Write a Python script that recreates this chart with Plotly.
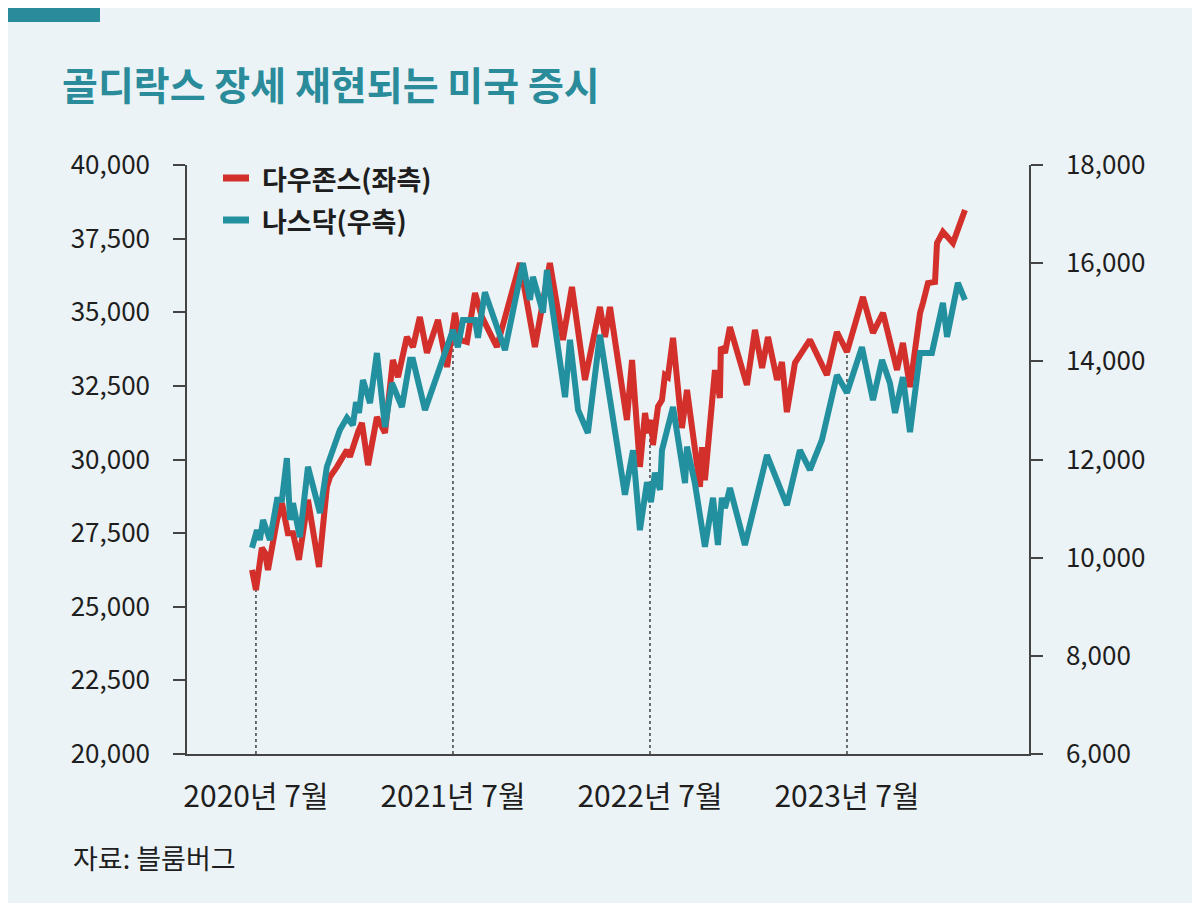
import numpy as np
import plotly.graph_objects as go

# ---------------- data ----------------
dow_x = [2020.480, 2020.500, 2020.530, 2020.546, 2020.561, 2020.607, 2020.632, 2020.662, 2020.688, 2020.718,
         2020.764, 2020.820, 2020.860, 2020.876, 2020.911, 2020.937, 2020.962, 2020.977, 2021.003, 2021.018,
         2021.038, 2021.069, 2021.114, 2021.155, 2021.195, 2021.221, 2021.266, 2021.297, 2021.332, 2021.368,
         2021.424, 2021.470, 2021.510, 2021.536, 2021.571, 2021.612, 2021.647, 2021.723, 2021.840, 2021.916,
         2021.992, 2022.058, 2022.104, 2022.170, 2022.246, 2022.272, 2022.297, 2022.383, 2022.409, 2022.449,
         2022.475, 2022.490, 2022.510, 2022.515, 2022.541, 2022.561, 2022.576, 2022.591, 2022.617, 2022.662,
         2022.688, 2022.754, 2022.764, 2022.779, 2022.830, 2022.855, 2022.860, 2022.881, 2022.906, 2022.992,
         2023.033, 2023.069, 2023.099, 2023.145, 2023.170, 2023.195, 2023.236, 2023.312, 2023.398, 2023.449,
         2023.500, 2023.581, 2023.632, 2023.683, 2023.754, 2023.784, 2023.820, 2023.871, 2023.886, 2023.911,
         2023.947, 2023.957, 2023.987, 2024.038, 2024.099]
dow_y = [26250, 25570, 27000, 26830, 26250, 27950, 28520, 27500, 27500, 26590,
         28630, 26350, 29070, 29410, 29750, 30090, 30320, 30090, 30660, 30930,
         31240, 29810, 31440, 30900, 33380, 32800, 34160, 33820, 34840, 33620,
         34740, 33140, 34980, 34060, 33990, 35650, 34840, 33820, 36670, 33820,
         36670, 34060, 35860, 32700, 35180, 34160, 35180, 31340, 33380, 29750,
         31580, 30900, 31340, 30490, 31800, 32020, 32870, 32800, 34130, 31070,
         32360, 29070, 30420, 29300, 33040, 32090, 33820, 33620, 34500, 32530,
         34400, 33110, 34160, 32700, 33310, 31610, 33280, 34060, 32870, 34330,
         33650, 35520, 34300, 34980, 33040, 33960, 32460, 34980, 35320, 35990,
         36030, 37350, 37730, 37350, 38470]

nasdaq_x = [2020.480, 2020.505, 2020.520, 2020.536, 2020.571, 2020.607, 2020.632, 2020.657, 2020.673, 2020.688,
            2020.723, 2020.764, 2020.825, 2020.860, 2020.926, 2020.962, 2020.992, 2021.008, 2021.023, 2021.043,
            2021.079, 2021.114, 2021.155, 2021.190, 2021.241, 2021.282, 2021.297, 2021.358, 2021.500, 2021.525,
            2021.551, 2021.612, 2021.627, 2021.662, 2021.764, 2021.855, 2021.891, 2021.906, 2021.957, 2021.977,
            2022.069, 2022.094, 2022.135, 2022.185, 2022.246, 2022.373, 2022.414, 2022.449, 2022.485, 2022.505,
            2022.525, 2022.551, 2022.561, 2022.617, 2022.678, 2022.688, 2022.728, 2022.779, 2022.820, 2022.845,
            2022.865, 2022.881, 2022.906, 2022.982, 2023.094, 2023.195, 2023.261, 2023.312, 2023.373, 2023.449,
            2023.500, 2023.576, 2023.632, 2023.678, 2023.718, 2023.744, 2023.784, 2023.820, 2023.871, 2023.931,
            2023.987, 2024.008, 2024.063, 2024.099]
nasdaq_y = [10200, 10560, 10360, 10770, 10360, 11180, 11180, 12030, 10770, 11110,
            10420, 11850, 10910, 11850, 12600, 12850, 12700, 13170, 12950, 13620,
            13150, 14170, 12660, 13560, 13070, 14030, 14030, 13010, 14640, 14290,
            14840, 14840, 14480, 15410, 14230, 16000, 15250, 15720, 14990, 15860,
            13270, 14440, 13010, 12540, 14540, 11280, 12190, 10560, 11540, 11130,
            11730, 11380, 12190, 13070, 11520, 12260, 11520, 10220, 11220, 10260,
            11220, 11010, 11420, 10260, 12090, 11070, 12190, 11790, 12400, 13720,
            13360, 14290, 13210, 14030, 13560, 12950, 13680, 12560, 14170, 14170,
            15190, 14500, 15600, 15250]

series_names = ["다우존스(좌측)", "나스닥(우측)"]
tick_years = [2020.5, 2021.5, 2022.5, 2023.5]
tick_labels = ["2020년 7월", "2021년 7월", "2022년 7월", "2023년 7월"]
left_ticks = [20000, 22500, 25000, 27500, 30000, 32500, 35000, 37500, 40000]
right_ticks = [6000, 8000, 10000, 12000, 14000, 16000, 18000]
title_text = "골디락스 장세 재현되는 미국 증시"
source_text = "자료: 블룸버그"

# ---------------- styling ----------------
RED = "#d32f2b"
TEAL = "#23909f"
TITLE_TEAL = "#2a8b9a"
PANEL = "#ecf3f6"
AXIS = "#444444"
TXT = "#1e1e1e"
KR = "Noto Sans CJK KR"

# the page body adds an 8px margin around the figure
OFF = 8
W, H = 1200 - 2 * OFF, 912 - 2 * OFF
L, R, T, B = 187, 1029, 165, 754  # plot area in page pixels


def px(x):
    return (x - L) / (R - L)


def py(y):
    return (B - y) / (B - T)


fig = go.Figure()

fig.add_trace(go.Scatter(x=dow_x, y=dow_y, mode="lines", name=series_names[0],
                         line=dict(color=RED, width=6), yaxis="y", showlegend=False))
fig.add_trace(go.Scatter(x=nasdaq_x, y=nasdaq_y, mode="lines", name=series_names[1],
                         line=dict(color=TEAL, width=6), yaxis="y2", showlegend=False))

shapes = []
# background panel and top accent bar
shapes.append(dict(type="rect", xref="paper", yref="paper", x0=px(OFF), x1=px(1192), y0=py(903), y1=py(OFF),
                   fillcolor=PANEL, line=dict(width=0), layer="below"))
shapes.append(dict(type="rect", xref="paper", yref="paper", x0=px(OFF), x1=px(100), y0=py(22), y1=py(OFF),
                   fillcolor=TITLE_TEAL, line=dict(width=0), layer="below"))
# dotted reference lines from the axis up to the Dow line
for ty in tick_years:
    top = float(np.interp(ty, dow_x, dow_y))
    shapes.append(dict(type="line", xref="x", yref="y", x0=ty, x1=ty, y0=left_ticks[0], y1=top,
                       line=dict(color="#333333", width=1.4, dash="3px,3px"), layer="below"))
# legend swatches
for col, yy in [(RED, 178), (TEAL, 220)]:
    shapes.append(dict(type="line", xref="paper", yref="paper", x0=px(223), x1=px(249), y0=py(yy), y1=py(yy),
                       line=dict(color=col, width=7)))

annotations = [
    dict(text=f"<b>{title_text}</b>", xref="paper", yref="paper", x=px(60), y=py(83), xanchor="left",
         yanchor="middle", showarrow=False, font=dict(family=KR, size=39, color=TITLE_TEAL)),
    dict(text=source_text, xref="paper", yref="paper", x=px(71), y=py(858), xanchor="left",
         yanchor="middle", showarrow=False, font=dict(family=KR, size=27, color=TXT)),
]
for name, yy in zip(series_names, [178, 220]):
    annotations.append(dict(text=f"<b>{name}</b>", xref="paper", yref="paper", x=px(260), y=py(yy),
                            xanchor="left", yanchor="middle", showarrow=False,
                            font=dict(family=KR, size=27, color=TXT)))

axis_common = dict(showline=True, linecolor=AXIS, linewidth=1.5, ticks="outside", ticklen=12,
                   tickcolor=AXIS, tickwidth=1.5, showgrid=False, zeroline=False,
                   tickfont=dict(family=KR, size=26, color=TXT), tickformat=",")

fig.update_layout(
    width=W, height=H,
    margin=dict(l=L - OFF, r=(W + OFF) - R, t=T - OFF, b=(H + OFF) - B, pad=0),
    paper_bgcolor="white", plot_bgcolor="rgba(0,0,0,0)",
    showlegend=False,
    xaxis=dict(range=[2020.150, 2024.424], showline=True, linecolor=AXIS, linewidth=1.5, ticks="",
               showgrid=False, zeroline=False, tickvals=tick_years, ticktext=tick_labels,
               tickfont=dict(family=KR, size=30, color=TXT), ticklabelstandoff=15),
    yaxis=dict(range=[left_ticks[0], left_ticks[-1]], tickvals=left_ticks, ticklabelstandoff=18,
               side="left", **axis_common),
    yaxis2=dict(range=[right_ticks[0], right_ticks[-1]], tickvals=right_ticks, overlaying="y",
                side="right", ticklabelstandoff=18, **axis_common),
    shapes=shapes,
    annotations=annotations,
)

fig.write_html("out.html")
